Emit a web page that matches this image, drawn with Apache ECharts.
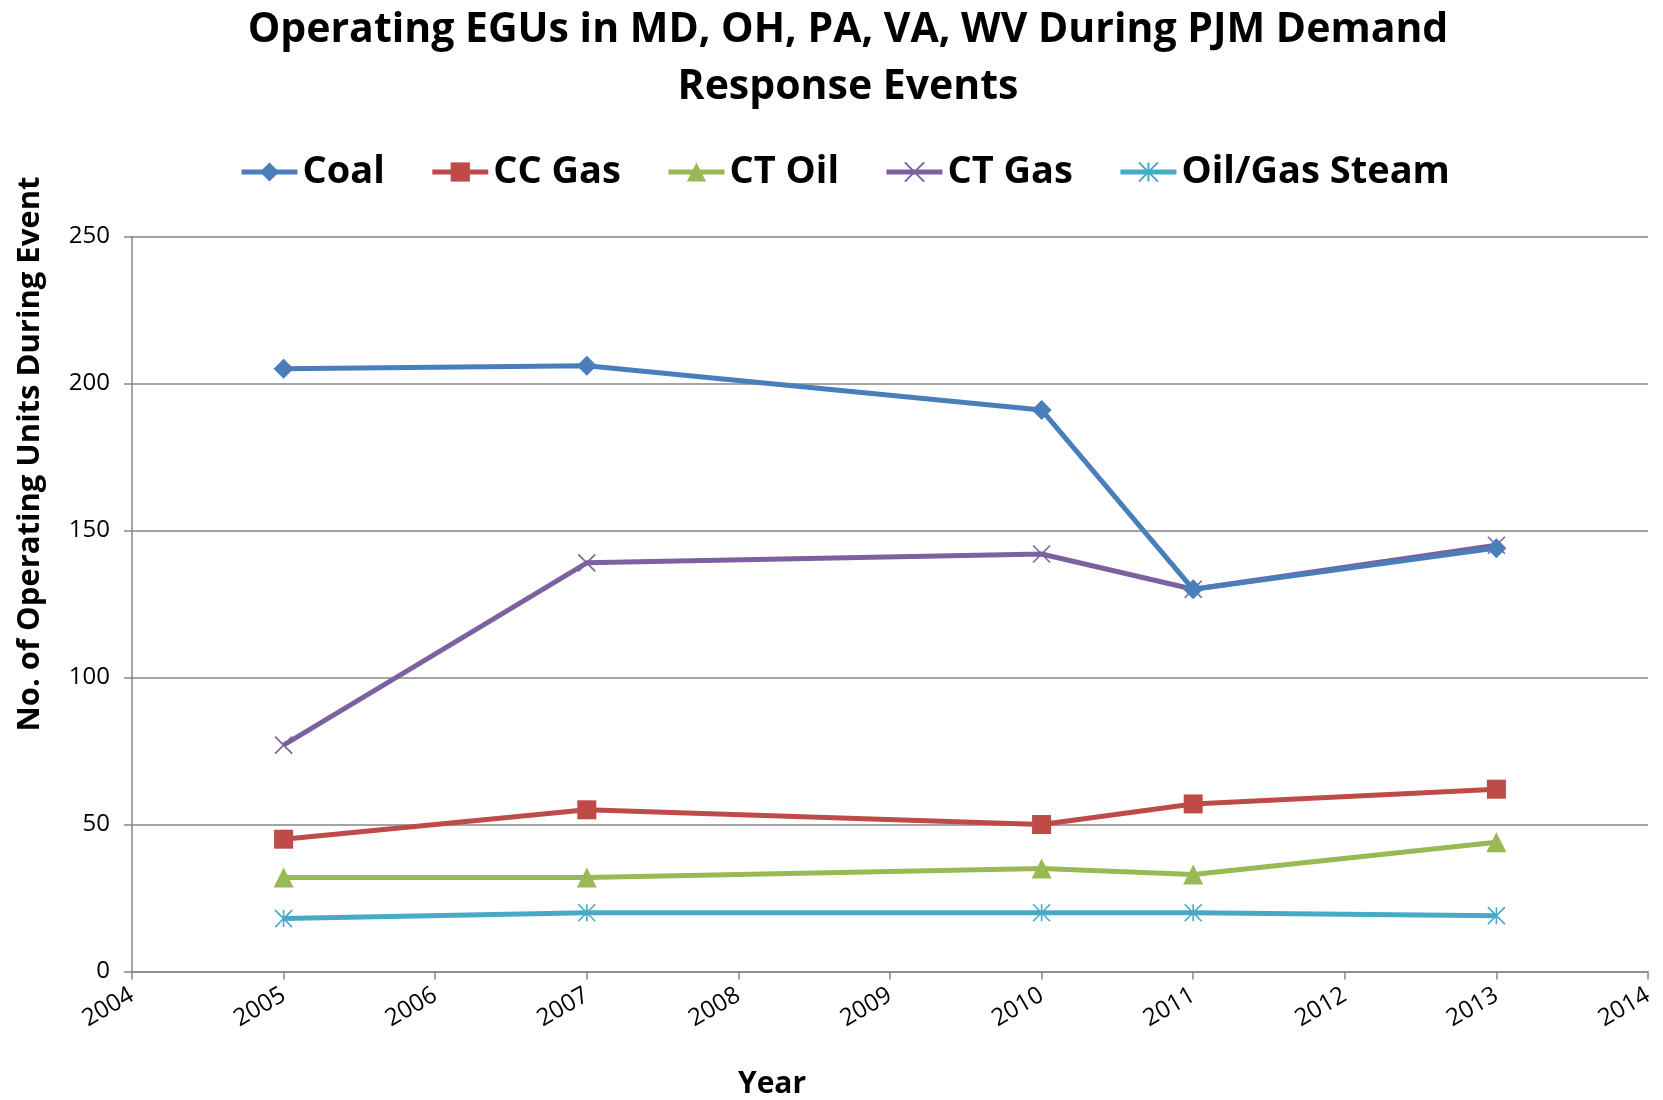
<!DOCTYPE html>
<html>
<head>
<meta charset="utf-8">
<script src="https://cdn.jsdelivr.net/npm/echarts@6/dist/echarts.min.js"></script>
<style>
  html, body { margin: 0; padding: 0; background: #fff; }
  #chart { width: 1663px; height: 1100px; }
</style>
</head>
<body>
<div id="chart"></div>
<script>
// data
var years = [2005, 2007, 2010, 2011, 2013];
var coal = [205, 206, 191, 130, 144];
var ccGas = [45, 55, 50, 57, 62];
var ctOil = [32, 32, 35, 33, 44];
var ctGas = [77, 139, 142, 130, 145];
var steam = [18, 20, 20, 20, 19];

var seriesNames = ["Coal", "CC Gas", "CT Oil", "CT Gas", "Oil/Gas Steam"];
var colors = ["#4a7ebb", "#be4b48", "#98b954", "#7d60a0", "#46aac5"];

function pairs(vals) {
  return years.map(function (y, i) { return [y, vals[i]]; });
}

var font = "'Open Sans', 'Liberation Sans', sans-serif";

var chart = echarts.init(document.getElementById("chart"));

function lineSeries(idx, vals, symbol, size, stroked) {
  return {
    name: seriesNames[idx],
    type: "line",
    data: pairs(vals),
    symbol: symbol,
    symbolSize: size,
    showAllSymbol: true,
    lineStyle: { color: colors[idx], width: 5 },
    itemStyle: stroked
      ? { color: "rgba(0,0,0,0)", borderColor: colors[idx], borderWidth: 1.6 }
      : { color: colors[idx] },
    emphasis: { disabled: true },
    z: idx === 0 ? 3 : 2
  };
}

var option = {
  backgroundColor: "#fff",
  animation: false,
  title: {
    text: "Operating EGUs in MD, OH, PA, VA, WV During PJM Demand\nResponse Events",
    left: 843,
    textAlign: "center",
    top: -3,
    textStyle: {
      fontFamily: font,
      fontWeight: "bold",
      fontSize: 41,
      lineHeight: 57,
      color: "#000"
    }
  },
  legend: {
    data: seriesNames,
    top: 148,
    left: 234,
    itemWidth: 56,
    itemHeight: 24,
    itemGap: 45,
    lineStyle: { width: 5 },
    textStyle: {
      fontFamily: font,
      fontWeight: "bold",
      fontSize: 38,
      color: "#000"
    }
  },
  grid: {
    left: 132,
    right: 15,
    top: 236.5,
    bottom: 128.5,
    containLabel: false
  },
  xAxis: {
    type: "value",
    min: 2004,
    max: 2014,
    interval: 1,
    axisLine: { show: true, lineStyle: { color: "#868686", width: 1.5 } },
    axisTick: { show: true, length: 8, lineStyle: { color: "#868686", width: 1.5 } },
    splitLine: { show: false },
    axisLabel: {
      rotate: 30,
      margin: 22,
      fontFamily: font,
      fontSize: 24,
      color: "#000",
      formatter: function (v) { return String(v); }
    }
  },
  yAxis: {
    type: "value",
    min: 0,
    max: 250,
    interval: 50,
    axisLine: { show: true, lineStyle: { color: "#868686", width: 1.5 } },
    axisTick: { show: true, length: 8, lineStyle: { color: "#868686", width: 1.5 } },
    splitLine: { show: true, lineStyle: { color: "#868686", width: 1.5 } },
    axisLabel: {
      margin: 22,
      fontFamily: font,
      fontSize: 24,
      color: "#000"
    }
  },
  graphic: [
    {
      type: "text",
      x: 30,
      y: 454,
      rotation: Math.PI / 2,
      style: {
        text: "No. of Operating Units During Event",
        fontFamily: font,
        fontWeight: "bold",
        fontSize: 31,
        fill: "#000",
        align: "center",
        verticalAlign: "middle"
      }
    },
    {
      type: "text",
      x: 772,
      y: 1084,
      style: {
        text: "Year",
        fontFamily: font,
        fontWeight: "bold",
        fontSize: 30,
        fill: "#000",
        align: "center",
        verticalAlign: "middle"
      }
    }
  ],
  series: [
    lineSeries(0, coal, "diamond", 20, false),
    lineSeries(1, ccGas, "rect", 19, false),
    lineSeries(2, ctOil, "triangle", 20, false),
    lineSeries(3, ctGas, "path://M0,0L10,10M10,0L0,10", 17, true),
    lineSeries(4, steam, "path://M5,0L5,10M0,0L10,10M10,0L0,10", 17, true)
  ]
};

chart.setOption(option);
</script>
</body>
</html>
